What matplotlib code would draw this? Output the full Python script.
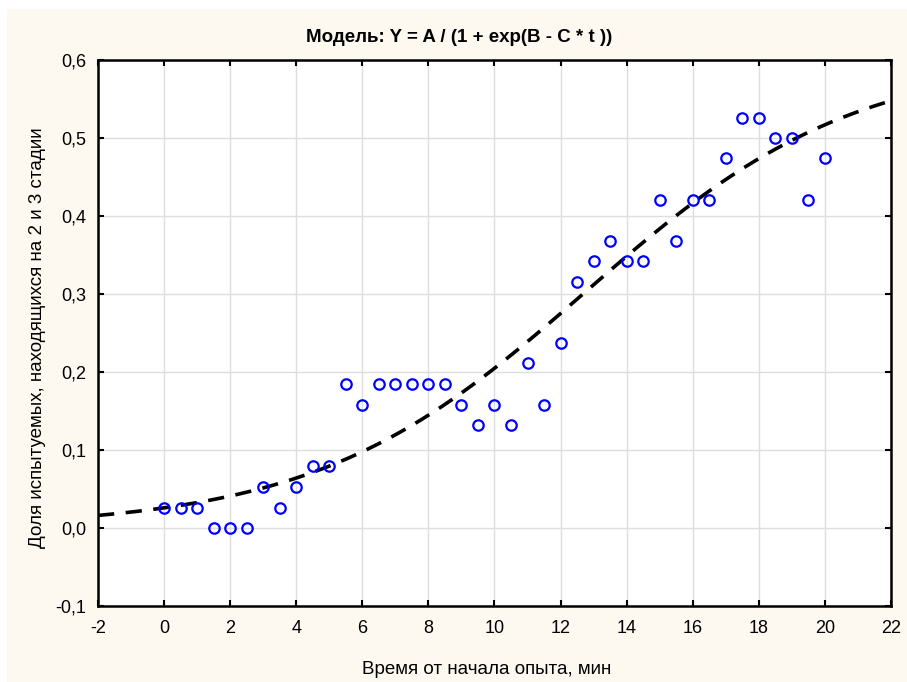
import numpy as np
import matplotlib
matplotlib.use("Agg")
import matplotlib.pyplot as plt
from matplotlib.patches import Rectangle
from matplotlib.ticker import FuncFormatter

plt.rcParams['font.family'] = ['Liberation Sans', 'DejaVu Sans']

# data
t_values = [0, 0.5, 1, 1.5, 2, 2.5, 3, 3.5, 4, 4.5, 5, 5.5, 6, 6.5, 7, 7.5, 8, 8.5,
            9, 9.5, 10, 10.5, 11, 11.5, 12, 12.5, 13, 13.5, 14, 14.5, 15, 15.5,
            16, 16.5, 17, 17.5, 18, 18.5, 19, 19.5, 20]
y_values = [0.026, 0.026, 0.026, 0.0, 0.0, 0.0, 0.053, 0.026, 0.053, 0.079, 0.079,
            0.184, 0.158, 0.184, 0.184, 0.184, 0.184, 0.184, 0.158, 0.132, 0.158,
            0.132, 0.211, 0.158, 0.237, 0.316, 0.342, 0.368, 0.342, 0.342, 0.421,
            0.368, 0.421, 0.421, 0.474, 0.526, 0.526, 0.5, 0.5, 0.421, 0.474]
# model parameters Y = A / (1 + exp(B - C*t))
A_param, B_param, C_param = 0.605, 3.11, 0.244
x_ticks = [-2, 0, 2, 4, 6, 8, 10, 12, 14, 16, 18, 20, 22]
y_ticks = [-0.1, 0.0, 0.1, 0.2, 0.3, 0.4, 0.5, 0.6]

W, H = 907, 682
fig = plt.figure(figsize=(W / 100, H / 100), dpi=100)
fig.patch.set_facecolor('white')
fig.patches.append(Rectangle((7 / W, 0), 1 - 7 / W, 1 - 9 / H, transform=fig.transFigure,
                             facecolor='#FDF9F0', edgecolor='none', zorder=-10))

ax = fig.add_axes([98 / W, 1 - 606 / H, (891 - 98) / W, (606 - 60) / H], zorder=1)
ax.set_facecolor('white')

tt = np.linspace(-2, 22, 300)
yy = A_param / (1 + np.exp(B_param - C_param * tt))
ax.plot(tt, yy, color='black', lw=2.6, ls=(0, (4.5, 3.2)), zorder=3)
ax.plot(t_values, y_values, 'o', mfc='none', mec='#0000FF', mew=1.6, ms=7.5, zorder=4)

ax.set_xlim(-2, 22)
ax.set_ylim(-0.1, 0.6)
ax.set_xticks(x_ticks)
ax.set_yticks(y_ticks)
ax.yaxis.set_major_formatter(FuncFormatter(lambda v, p: f"{v:.1f}".replace('.', ',').replace('-0,0', '0,0')))
ax.xaxis.set_major_formatter(FuncFormatter(lambda v, p: f"{v:.0f}"))
ax.grid(True, color='#DEDEDE', lw=1)
ax.set_axisbelow(True)
ax.tick_params(direction='in', length=4, width=1.5, top=True, right=True,
               labelsize=13, colors='black')
ax.tick_params(axis='x', pad=10)
ax.tick_params(axis='y', pad=8.5)
for s in ax.spines.values():
    s.set_linewidth(1.8)
    s.set_color('black')

fig.text(459 / W, 1 - 42 / H, 'Модель: Y = A / (1 + exp(B - C * t ))', ha='center', va='baseline',
         fontsize=13.5, fontweight='bold')
fig.text(487 / W, 1 - 674 / H, 'Время от начала опыта, мин', ha='center', va='baseline', fontsize=13.5)
fig.text(38 / W, 1 - 338 / H, 'Доля испытуемых, находящихся на 2 и 3 стадии', ha='center',
         va='center', rotation=90, fontsize=13.5)

fig.savefig('out.png', dpi=100, facecolor=fig.get_facecolor())
